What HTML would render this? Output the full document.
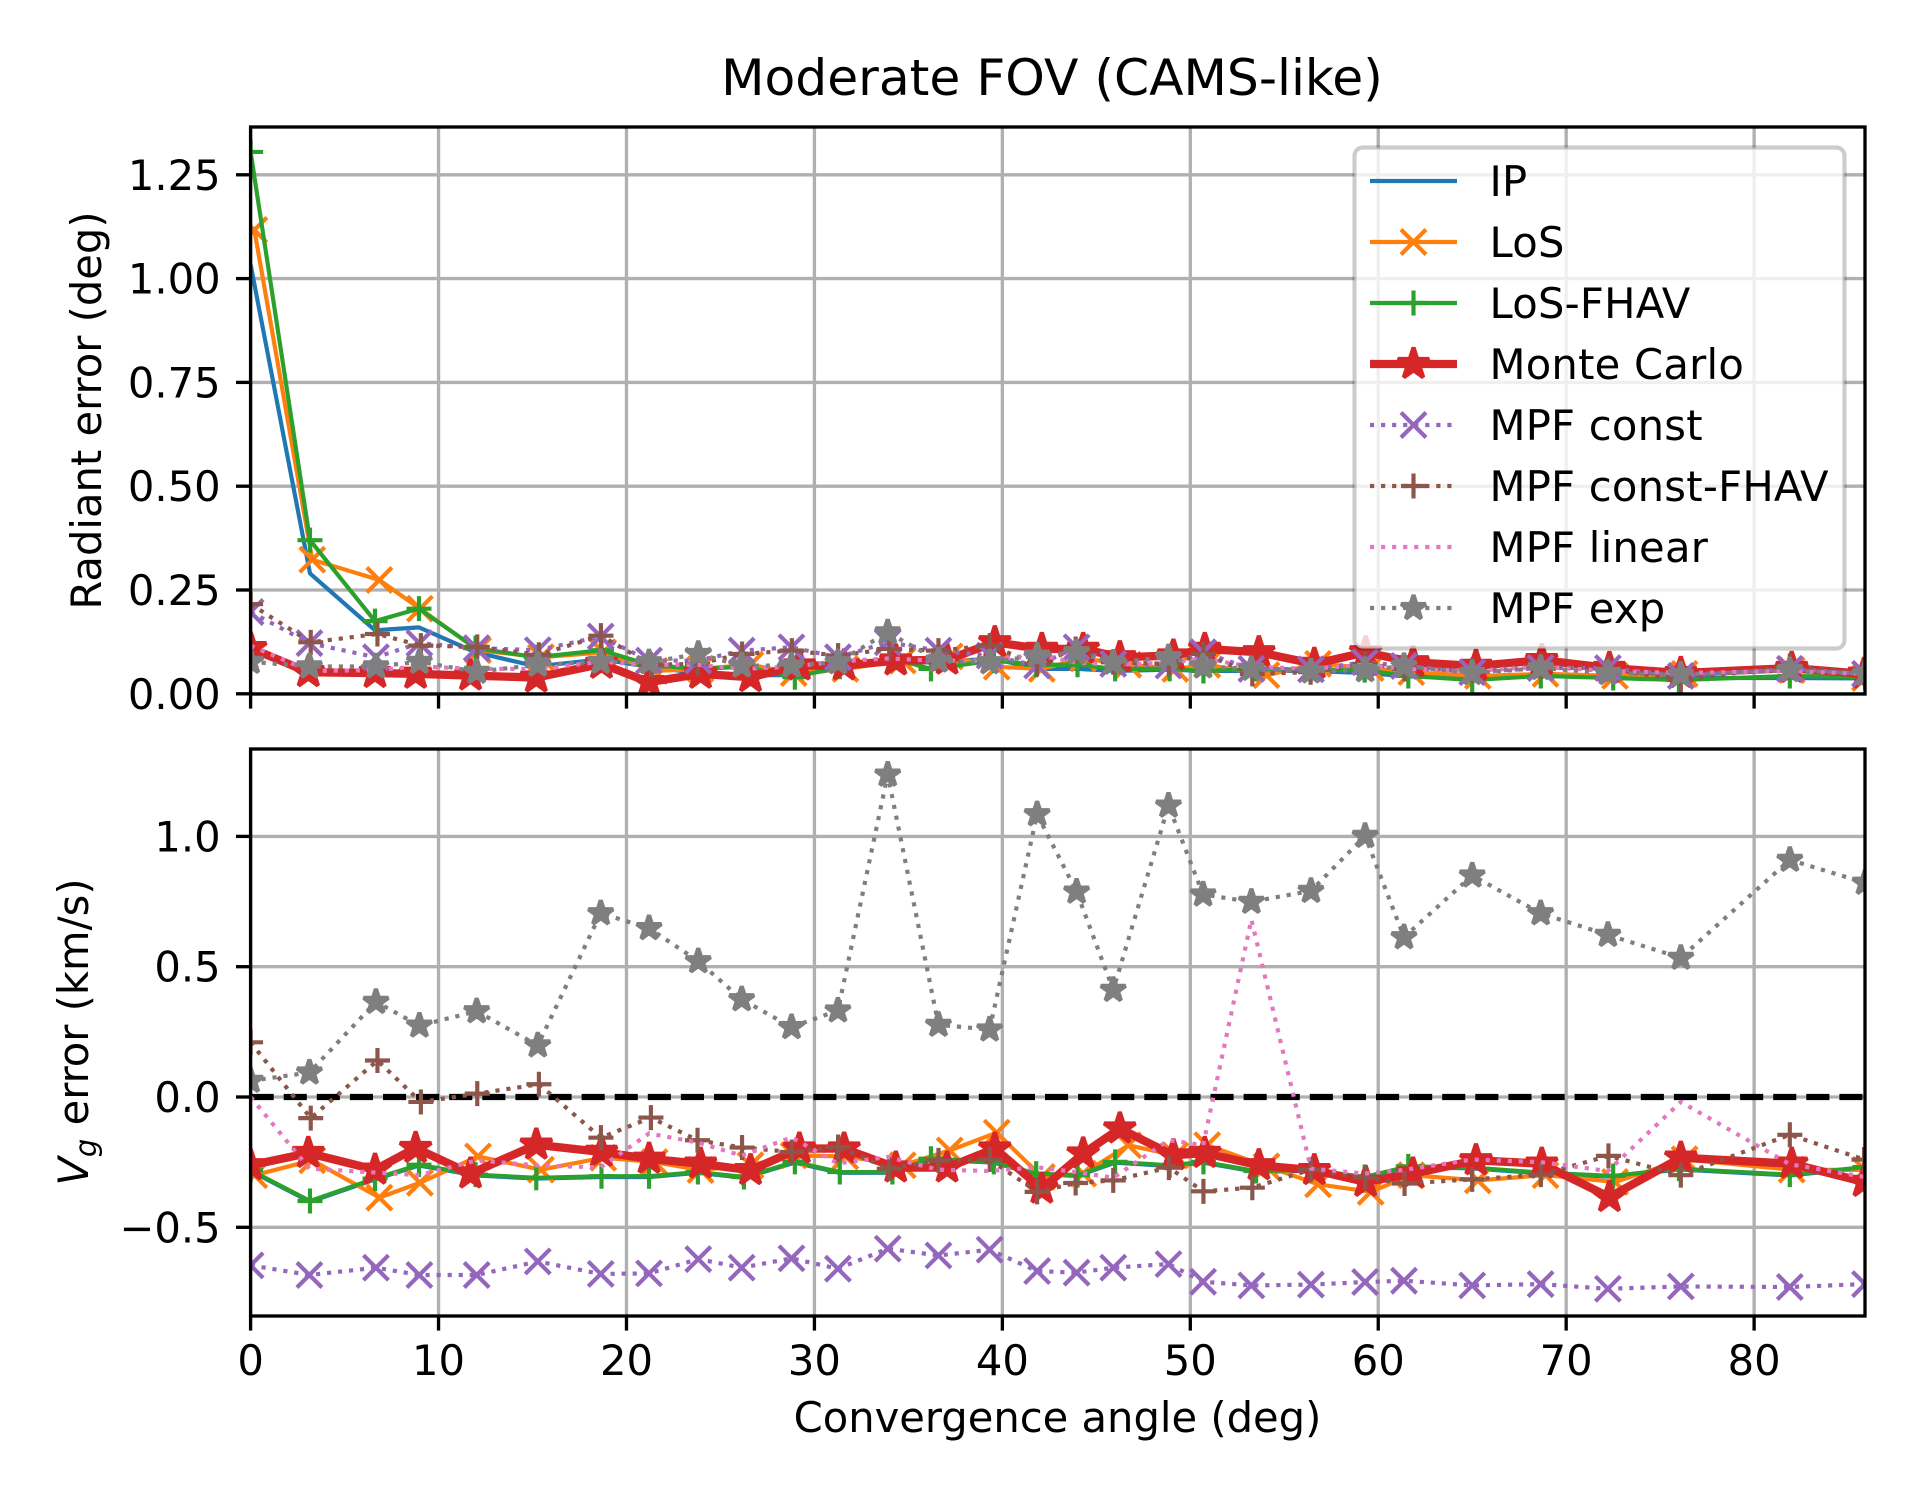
<!DOCTYPE html>
<html lang="en">
<head>
<meta charset="utf-8">
<title>Moderate FOV (CAMS-like)</title>
<style>
html,body{margin:0;padding:0;background:#fff;}
svg{display:block;}
text{font-family:"DejaVu Sans","Liberation Sans",sans-serif;fill:#000;}
</style>
</head>
<body>
<svg id="chart" xmlns="http://www.w3.org/2000/svg" width="1920" height="1490" viewBox="0 0 1920 1490">
  <rect x="0" y="0" width="1920" height="1490" fill="#fff"/>
  <defs>
    <clipPath id="clip-top"><rect x="250.6" y="127" width="1614.4" height="567"/></clipPath>
    <clipPath id="clip-bottom"><rect x="250.6" y="749" width="1614.4" height="567"/></clipPath>
  </defs>
  <g id="top-grid"></g>
  <g id="bottom-grid"></g>
  <line id="zero-line" clip-path="url(#clip-bottom)" stroke="#000" stroke-width="6.25" stroke-dasharray="23.1 10"></line>
  <g id="top-series" clip-path="url(#clip-top)"></g>
  <g id="bottom-series" clip-path="url(#clip-bottom)"></g>
  <g id="top-axes"></g>
  <g id="bottom-axes"></g>
  <text x="1052" y="95" font-size="50.3" text-anchor="middle">Moderate FOV (CAMS-like)</text>
  <text x="1057.5" y="1432" font-size="41.67" text-anchor="middle">Convergence angle (deg)</text>
  <text transform="translate(101,410.5) rotate(-90)" font-size="41.67" text-anchor="middle">Radiant error (deg)</text>
  <text transform="translate(88,1032) rotate(-90)" font-size="41.67" text-anchor="middle"><tspan font-style="italic">V</tspan><tspan font-style="italic" font-size="29" dy="8">g</tspan><tspan dy="-8"> error (km/s)</tspan></text>
  <g id="legend"></g>
</svg>
<script>
// ---- chart data ----
const xTicks = [0, 10, 20, 30, 40, 50, 60, 70, 80];
const radiantTicks = [0, 0.25, 0.5, 0.75, 1, 1.25];
const radiantTickLabels = ["0.00", "0.25", "0.50", "0.75", "1.00", "1.25"];
const vgTicks = [-0.5, 0, 0.5, 1];
const vgTickLabels = ["\u22120.5", "0.0", "0.5", "1.0"];

const fhavAngles = [0,3.16,6.62,8.96,11.97,15.2,18.67,21.2,23.8,26.25,28.96,31.35,34.15,36.2,39.55,41.8,44,46,48.9,50.7,53.5,56.4,59.28,61.6,65,68.65,72.5,76,81.9,85.9];
const losAngles = [0.2,3.28,6.85,9.01,12.1,15.45,18.76,21.5,23.94,26.6,28.9,31.65,34.7,37.2,39.7,42.1,44.3,46.7,49.2,50.9,54.05,56.8,59.6,61.76,65.3,68.9,72.6,76.3,82,85.9];
const mcAngles = [0,3.07,6.62,8.78,11.7,15.2,18.67,21.2,23.94,26.6,29.2,31.58,34.33,37.06,39.6,42.1,44.3,46.25,49.1,50.77,53.65,56.6,59.33,61.85,65.2,68.7,72.3,76.1,82,85.85];
const mpfAngles = [0,3.13,6.67,8.98,12.03,15.28,18.63,21.2,23.82,26.13,28.78,31.25,33.9,36.6,39.32,41.85,43.95,45.9,48.84,50.68,53.25,56.42,59.3,61.37,65,68.64,72.22,76.1,81.9,85.9];
const mpfFhavAngles = [0,3.2,6.75,9.06,12.06,15.34,18.64,21.3,23.78,26.15,28.8,31.26,33.98,36.6,39.33,41.85,43.9,45.9,48.86,50.7,53.3,56.4,59.3,61.4,65,68.65,72.25,76.1,81.9,85.85];

const ipRadiant = [1.034,0.29,0.153,0.16,0.10,0.066,0.083,0.065,0.05,0.045,0.045,0.06,0.08,0.075,0.085,0.06,0.06,0.055,0.058,0.055,0.055,0.055,0.05,0.042,0.038,0.045,0.04,0.038,0.038,0.037];
const losRadiant = [1.117,0.323,0.274,0.205,0.105,0.088,0.10,0.055,0.06,0.07,0.05,0.06,0.08,0.09,0.065,0.06,0.085,0.07,0.06,0.07,0.045,0.072,0.062,0.052,0.043,0.048,0.043,0.048,0.057,0.038];
const fhavRadiant = [1.305,0.37,0.175,0.205,0.11,0.088,0.105,0.07,0.06,0.065,0.04,0.065,0.085,0.06,0.08,0.07,0.07,0.06,0.06,0.055,0.06,0.058,0.057,0.043,0.033,0.043,0.038,0.033,0.043,0.04];
const mcRadiant = [0.11,0.052,0.05,0.048,0.044,0.039,0.072,0.028,0.048,0.04,0.068,0.068,0.08,0.082,0.124,0.108,0.108,0.088,0.092,0.108,0.10,0.072,0.10,0.076,0.067,0.081,0.062,0.05,0.062,0.048];
const mpfConstRadiant = [0.197,0.122,0.088,0.122,0.11,0.105,0.138,0.08,0.08,0.104,0.112,0.088,0.124,0.104,0.092,0.068,0.112,0.072,0.068,0.10,0.06,0.059,0.076,0.067,0.052,0.062,0.062,0.043,0.06,0.048];
const mpfFhavRadiant = [0.216,0.124,0.144,0.116,0.113,0.094,0.14,0.07,0.072,0.096,0.104,0.092,0.108,0.104,0.116,0.072,0.108,0.076,0.072,0.096,0.048,0.052,0.072,0.06,0.057,0.067,0.06,0.033,0.067,0.05];
const mpfLinearRadiant = [0.116,0.055,0.057,0.066,0.06,0.06,0.077,0.07,0.07,0.06,0.065,0.078,0.085,0.08,0.08,0.095,0.075,0.07,0.075,0.085,0.065,0.06,0.07,0.06,0.055,0.065,0.055,0.05,0.055,0.048];
const mpfExpRadiant = [0.077,0.066,0.066,0.077,0.053,0.07,0.077,0.076,0.096,0.068,0.068,0.076,0.148,0.08,0.076,0.092,0.10,0.075,0.088,0.066,0.06,0.054,0.057,0.067,0.05,0.062,0.05,0.046,0.057,0.048];

const ipVg = [-0.284,-0.402,-0.316,-0.263,-0.301,-0.313,-0.307,-0.307,-0.291,-0.31,-0.252,-0.291,-0.291,-0.24,-0.252,-0.297,-0.303,-0.252,-0.265,-0.252,-0.287,-0.283,-0.31,-0.269,-0.274,-0.293,-0.306,-0.278,-0.301,-0.272];
const losVg = [-0.30,-0.243,-0.386,-0.329,-0.228,-0.279,-0.233,-0.25,-0.28,-0.262,-0.224,-0.228,-0.262,-0.205,-0.137,-0.307,-0.294,-0.185,-0.224,-0.185,-0.266,-0.335,-0.364,-0.30,-0.32,-0.30,-0.326,-0.239,-0.279,-0.28];
const fhavVg = [-0.281,-0.399,-0.313,-0.26,-0.298,-0.31,-0.304,-0.304,-0.288,-0.307,-0.249,-0.288,-0.288,-0.237,-0.249,-0.294,-0.30,-0.249,-0.262,-0.249,-0.284,-0.28,-0.307,-0.266,-0.271,-0.29,-0.303,-0.275,-0.298,-0.269];
const mcVg = [-0.262,-0.215,-0.279,-0.196,-0.294,-0.183,-0.211,-0.237,-0.256,-0.281,-0.198,-0.198,-0.271,-0.271,-0.198,-0.352,-0.217,-0.121,-0.224,-0.215,-0.262,-0.281,-0.326,-0.294,-0.243,-0.256,-0.384,-0.233,-0.256,-0.326];
const mpfConstVg = [-0.646,-0.683,-0.655,-0.683,-0.683,-0.631,-0.679,-0.677,-0.622,-0.655,-0.619,-0.659,-0.582,-0.608,-0.586,-0.668,-0.674,-0.655,-0.641,-0.709,-0.723,-0.72,-0.71,-0.705,-0.723,-0.718,-0.736,-0.727,-0.729,-0.718];
const mpfFhavVg = [0.21,-0.081,0.14,-0.019,0.013,0.049,-0.156,-0.079,-0.166,-0.194,-0.211,-0.192,-0.275,-0.243,-0.24,-0.364,-0.33,-0.32,-0.271,-0.362,-0.348,-0.279,-0.31,-0.332,-0.316,-0.298,-0.226,-0.30,-0.145,-0.24];
const mpfLinearVg = [0,-0.275,-0.29,-0.30,-0.243,-0.263,-0.27,-0.14,-0.175,-0.225,-0.155,-0.255,-0.23,-0.279,-0.284,-0.27,-0.288,-0.31,-0.166,-0.185,0.681,-0.275,-0.294,-0.28,-0.24,-0.25,-0.284,-0.019,-0.258,-0.307];
const mpfExpVg = [0.062,0.094,0.365,0.274,0.329,0.198,0.705,0.648,0.521,0.375,0.268,0.332,1.237,0.277,0.259,1.085,0.788,0.411,1.118,0.777,0.749,0.791,1.002,0.613,0.85,0.705,0.622,0.534,0.91,0.822];

// ---- series wiring ----
const seriesList = [
  {key:'ip', label:'IP', color:'#1f77b4', width:4.17, dots:false, marker:'', size:0, x:fhavAngles, top:ipRadiant, bottom:ipVg},
  {key:'los', label:'LoS', color:'#ff7f0e', width:4.17, dots:false, marker:'x', size:12.5, x:losAngles, top:losRadiant, bottom:losVg},
  {key:'los-fhav', label:'LoS-FHAV', color:'#2ca02c', width:4.17, dots:false, marker:'+', size:12.5, x:fhavAngles, top:fhavRadiant, bottom:fhavVg},
  {key:'monte-carlo', label:'Monte Carlo', color:'#d62728', width:8.33, dots:false, marker:'*', size:16.5, x:mcAngles, top:mcRadiant, bottom:mcVg},
  {key:'mpf-const', label:'MPF const', color:'#9467bd', width:4.17, dots:true, marker:'x', size:12.5, x:mpfAngles, top:mpfConstRadiant, bottom:mpfConstVg},
  {key:'mpf-const-fhav', label:'MPF const-FHAV', color:'#8c564b', width:4.17, dots:true, marker:'+', size:12.5, x:mpfFhavAngles, top:mpfFhavRadiant, bottom:mpfFhavVg},
  {key:'mpf-linear', label:'MPF linear', color:'#e377c2', width:4.17, dots:true, marker:'', size:0, x:mpfAngles, top:mpfLinearRadiant, bottom:mpfLinearVg},
  {key:'mpf-exp', label:'MPF exp', color:'#7f7f7f', width:4.17, dots:true, marker:'*', size:13, x:mpfAngles, top:mpfExpRadiant, bottom:mpfExpVg}
];

// ---- axis functions ----
const NS = 'http://www.w3.org/2000/svg';
const LEFT = 250.6, RIGHT = 1865, XMAX = 85.9;
function xScale(v){ return LEFT + v / XMAX * (RIGHT - LEFT); }
function yTop(v){ return 693.8 - v * 415.2; }
function yBottom(v){ return 1097 - v * 260.6; }

function make(tag, attrs, parent){
  const el = document.createElementNS(NS, tag);
  for (const k in attrs) el.setAttribute(k, attrs[k]);
  parent.appendChild(el);
  return el;
}

function starPath(cx, cy, r){
  let d = '';
  for (let i = 0; i < 10; i++){
    const rad = i % 2 ? r * 0.381966 : r;
    const a = -Math.PI / 2 + i * Math.PI / 5;
    d += (i ? 'L' : 'M') + (cx + rad * Math.cos(a)).toFixed(2) + ' ' + (cy + rad * Math.sin(a)).toFixed(2);
  }
  return d + 'Z';
}

function drawMarker(parent, kind, cx, cy, size, color){
  const attrs = {fill:'none', stroke:color, 'stroke-width':4.17};
  if (kind === 'x') {
    attrs.d = 'M'+(cx-size)+' '+(cy-size)+'L'+(cx+size)+' '+(cy+size)+'M'+(cx-size)+' '+(cy+size)+'L'+(cx+size)+' '+(cy-size);
  } else if (kind === '+') {
    attrs.d = 'M'+(cx-size)+' '+cy+'L'+(cx+size)+' '+cy+'M'+cx+' '+(cy-size)+'L'+cx+' '+(cy+size);
  } else {
    attrs.d = starPath(cx, cy, size);
    attrs.fill = color;
    attrs['stroke-linejoin'] = 'bevel';
  }
  return make('path', attrs, parent);
}

function drawSeries(parent, s, values, yFn, panel){
  const g = make('g', {}, parent);
  
  
  const pts = values.map(function(v, i){ return xScale(s.x[i]).toFixed(2) + ',' + yFn(v).toFixed(2); }).join(' ');
  const attrs = {points:pts, fill:'none', stroke:s.color, 'stroke-width':s.width, 'stroke-linejoin':'round'};
  if (s.dots) attrs['stroke-dasharray'] = '4.17 6.875';
  const line = make('polyline', attrs, g);
  
  
  if (s.marker) {
    values.forEach(function(v, i){
      const m = drawMarker(g, s.marker, xScale(s.x[i]), yFn(v), s.size, s.color);
      
      
    });
  }
}

function drawGrid(parent, yTicks, yFn, top, bottom){
  xTicks.forEach(function(t){
    const l = make('line', {x1:xScale(t), x2:xScale(t), y1:top, y2:bottom, stroke:'#b0b0b0', 'stroke-width':3.33}, parent);
    
    
  });
  yTicks.forEach(function(t){
    const l = make('line', {x1:LEFT, x2:RIGHT, y1:yFn(t), y2:yFn(t), stroke:'#b0b0b0', 'stroke-width':3.33}, parent);
    
    
  });
}

function drawAxes(parent, yTicks, yLabels, yFn, top, bottom, showX){
  const frame = make('rect', {x:LEFT, y:top, width:RIGHT-LEFT, height:bottom-top, fill:'none', stroke:'#000', 'stroke-width':3.33}, parent);
  
  
  xTicks.forEach(function(t){
    const tick = make('line', {x1:xScale(t), x2:xScale(t), y1:bottom, y2:bottom+14.6, stroke:'#000', 'stroke-width':3.33}, parent);
    
    
    if (showX) {
      const lab = make('text', {x:xScale(t), y:1375, 'font-size':41.67, 'text-anchor':'middle'}, parent);
      lab.textContent = String(t);
      
      
    }
  });
  yTicks.forEach(function(t, i){
    const tick = make('line', {x1:LEFT-14.6, x2:LEFT, y1:yFn(t), y2:yFn(t), stroke:'#000', 'stroke-width':3.33}, parent);
    
    
    const lab = make('text', {x:LEFT-30, y:yFn(t)+15, 'font-size':41.67, 'text-anchor':'end'}, parent);
    lab.textContent = yLabels[i];
    
    
  });
}

function drawLegend(parent){
  const box = make('rect', {x:1354.5, y:147.5, width:490, height:501, rx:8.3, ry:8.3, fill:'#fff', 'fill-opacity':0.8, stroke:'#000', 'stroke-opacity':0.2, 'stroke-width':4.17}, parent);
  
  
  seriesList.forEach(function(s, i){
    const y = 181 + i * 61.0;
    const g = make('g', {}, parent);
    
    
    const attrs = {x1:1370, x2:1457, y1:y, y2:y, stroke:s.color, 'stroke-width':s.width};
    if (s.dots) attrs['stroke-dasharray'] = '4.17 6.875';
    make('line', attrs, g);
    if (s.marker) drawMarker(g, s.marker, 1413.5, y, s.size, s.color);
    const t = make('text', {x:1489.5, y:y+15, 'font-size':41.67, 'letter-spacing':0.25}, g);
    t.textContent = s.label;
  });
}

// ---- render ----
drawGrid(document.getElementById('top-grid'), radiantTicks, yTop, 127, 694);
drawGrid(document.getElementById('bottom-grid'), vgTicks, yBottom, 749, 1316);
const zero = document.getElementById('zero-line');
zero.setAttribute('x1', LEFT);
zero.setAttribute('x2', RIGHT);
zero.setAttribute('y1', yBottom(0));
zero.setAttribute('y2', yBottom(0));
seriesList.forEach(function(s){
  drawSeries(document.getElementById('top-series'), s, s.top, yTop, 'radiant');
  drawSeries(document.getElementById('bottom-series'), s, s.bottom, yBottom, 'vg');
});
drawAxes(document.getElementById('top-axes'), radiantTicks, radiantTickLabels, yTop, 127, 694, false);
drawAxes(document.getElementById('bottom-axes'), vgTicks, vgTickLabels, yBottom, 749, 1316, true);
drawLegend(document.getElementById('legend'));
</script>
</body>
</html>
